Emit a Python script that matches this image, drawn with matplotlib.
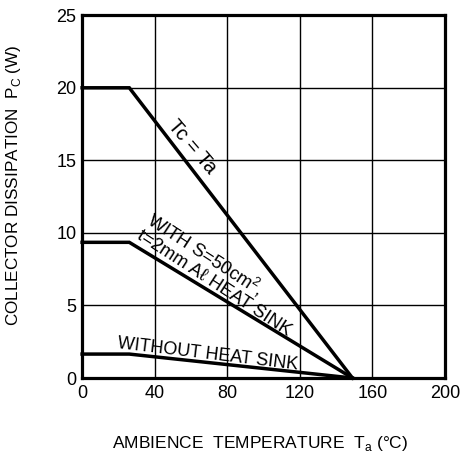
import matplotlib
matplotlib.use("Agg")
import matplotlib.pyplot as plt

# Data
ta_case = [0, 26, 149]
pc_case = [20, 20, 0]
ta_sink = [0, 26, 149]
pc_sink = [9.35, 9.35, 0]
ta_nosink = [0, 26, 149]
pc_nosink = [1.65, 1.65, 0]
x_ticks = [0, 40, 80, 120, 160, 200]
y_ticks = [0, 5, 10, 15, 20, 25]

plt.rcParams['font.family'] = ['Liberation Sans', 'DejaVu Sans']
plt.rcParams['mathtext.fontset'] = 'custom'
plt.rcParams['mathtext.rm'] = 'Liberation Sans'

fig = plt.figure(figsize=(4.64, 4.61), dpi=100)
ax = fig.add_axes([0.177, 0.180, 0.782, 0.787])

for xs, ys in [(ta_case, pc_case), (ta_sink, pc_sink), (ta_nosink, pc_nosink)]:
    ax.plot(xs, ys, color='black', lw=2.5, solid_joinstyle='miter', clip_on=False)

ax.set_xlim(0, 200)
ax.set_ylim(0, 25)
ax.set_xticks(x_ticks)
ax.set_yticks(y_ticks)
ax.set_xticklabels([str(v) for v in x_ticks])
ax.set_yticklabels([str(v) for v in y_ticks])
ax.grid(True, color='black', lw=1.0)
ax.tick_params(axis='y', length=0, labelsize=13, pad=4)
ax.tick_params(axis='x', length=0, labelsize=13, pad=5)
for s in ax.spines.values():
    s.set_linewidth(2.3)

ax.set_xlabel(r'AMBIENCE  TEMPERATURE  T$_{\rm a}$ (°C)', fontsize=12.5)
ax.xaxis.set_label_coords(0.49, -0.155)
ax.set_ylabel(r'COLLECTOR DISSIPATION  P$_{\rm C}$ (W)', fontsize=12.3)
ax.yaxis.set_label_coords(-0.163, 0.53)

ax.text(60.5, 15.9, 'Tc = Ta', rotation=-49.5, fontsize=14.5, ha='center', va='center',
        rotation_mode='anchor')
ax.text(34.5, 10.55, 'WITH S=50cm$^2$,\nt=2mm Aℓ HEAT SINK', rotation=-33, fontsize=13.3,
        ha='left', va='center', multialignment='left', rotation_mode='anchor',
        linespacing=1.0)
ax.text(69, 1.65, 'WITHOUT HEAT SINK', rotation=-6.8, fontsize=13, ha='center',
        va='center', rotation_mode='anchor')

fig.savefig('out.png', dpi=100)
